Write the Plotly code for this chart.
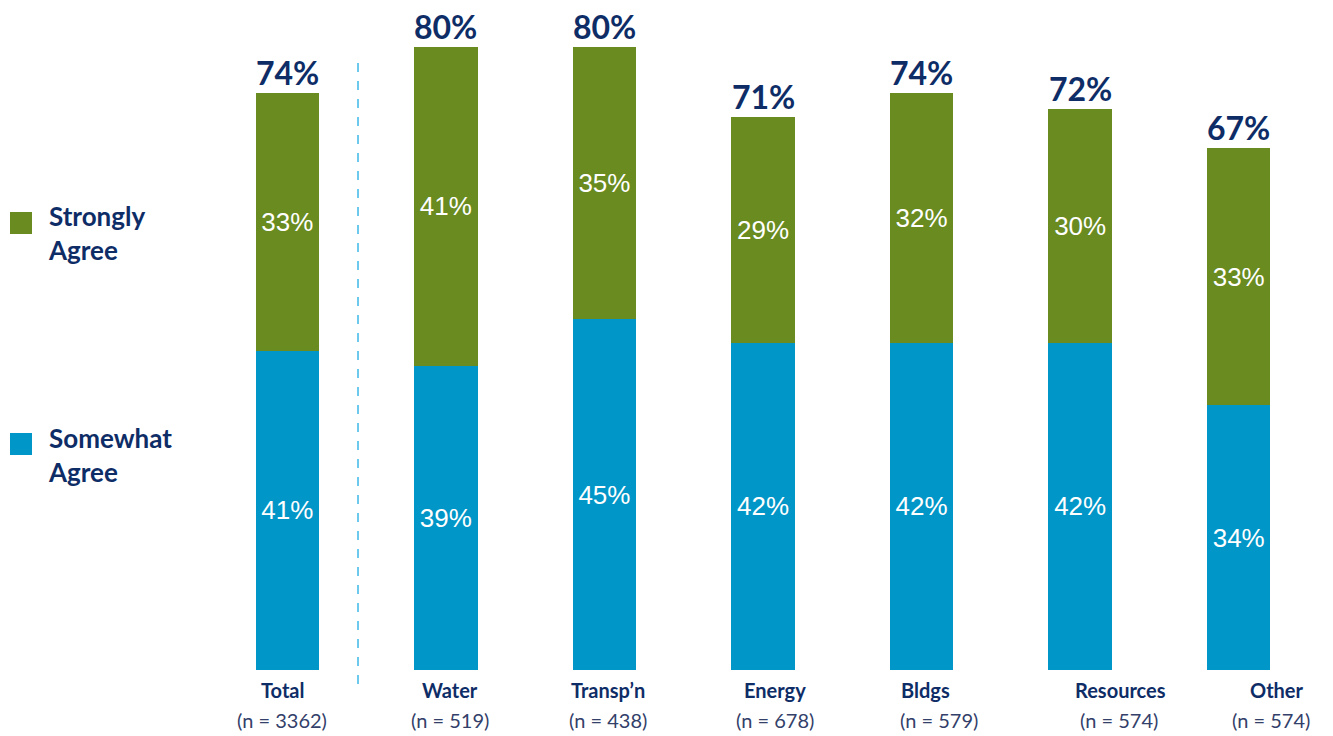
import plotly.graph_objects as go

# Survey results by sector
categories = ["Total", "Water", "Transp\u2019n", "Energy", "Bldgs", "Resources", "Other"]
sample_sizes = ["3362", "519", "438", "678", "579", "574", "574"]
somewhat_agree = [41, 39, 45, 42, 42, 42, 34]
strongly_agree = [33, 41, 35, 29, 32, 30, 33]
combined = [74, 80, 80, 71, 74, 72, 67]

GREEN = "#698B1F"
BLUE = "#0096C8"
NAVY = "#0E2D67"
LABEL_FONT = "Lato, 'Open Sans', sans-serif"
VALUE_FONT = "Liberation Sans, Arial, sans-serif"

x_idx = list(range(len(categories)))

fig = go.Figure()
fig.add_trace(go.Bar(
    x=x_idx, y=somewhat_agree, name="Somewhat Agree",
    marker=dict(color=BLUE, line=dict(width=0)),
    text=[f"{v}%" for v in somewhat_agree], textposition="inside",
    insidetextanchor="middle",
    textfont=dict(family=VALUE_FONT, size=26, color="white"),
))
fig.add_trace(go.Bar(
    x=x_idx, y=strongly_agree, name="Strongly Agree",
    marker=dict(color=GREEN, line=dict(width=0)),
    text=[f"{v}%" for v in strongly_agree], textposition="inside",
    insidetextanchor="middle",
    textfont=dict(family=VALUE_FONT, size=26, color="white"),
))

annotations = []
# totals above each stack
for i, v in enumerate(combined):
    annotations.append(dict(
        x=i, y=v, xref="x", yref="y", text=f"<b>{v}%</b>", showarrow=False,
        yanchor="bottom", yshift=-1,
        font=dict(family=LABEL_FONT, size=32, color=NAVY),
    ))

# category names and sample sizes under the bars
name_shift = [-5, 4, 4, 12, 4, 40, 38]
n_shift = [-5, 4, 4, 12, 17, 39, 32]
for i, (c, n) in enumerate(zip(categories, sample_sizes)):
    annotations.append(dict(
        x=i, y=690, xref="x", yref="paper", text=f"<b>{c}</b>", showarrow=False,
        xshift=name_shift[i], yanchor="middle",
        font=dict(family=LABEL_FONT, size=20, color=NAVY),
    ))
    annotations.append(dict(
        x=i, y=720, xref="x", yref="paper", text=f"(n = {n})", showarrow=False,
        xshift=n_shift[i], yanchor="middle",
        font=dict(family=LABEL_FONT, size=20, color="#33406A"),
    ))

# legend drawn on the left side
legend_items = [("Strongly<br>Agree", GREEN, 223, 233), ("Somewhat<br>Agree", BLUE, 444, 455)]
shapes = []
for label, color, yc, yt in legend_items:
    shapes.append(dict(
        type="rect", xref="paper", yref="paper",
        x0=10, x1=32, y0=yc - 11, y1=yc + 11,
        fillcolor=color, line=dict(width=0), layer="above",
    ))
    annotations.append(dict(
        x=46, y=yt, xref="paper", yref="paper", text=f"<b>{label}</b>",
        showarrow=False, xanchor="left", yanchor="middle", align="left",
        font=dict(family=LABEL_FONT, size=26, color=NAVY),
    ))

# dashed separator between total and sectors
shapes.append(dict(
    type="line", xref="x", yref="paper", x0=0.446, x1=0.446, y0=63, y1=686,
    line=dict(color="#3CB8E6", width=1.5, dash="dash"),
))

W, H = 1333, 736
PLOT_L, PLOT_R, PLOT_T, PLOT_B = 208, 1318, 0, 670

# convert pixel-based paper positions to fractions
for a in annotations:
    if a["yref"] == "paper":
        a["y"] = (PLOT_B - a["y"]) / (PLOT_B - PLOT_T)
    if a["xref"] == "paper":
        a["x"] = (a["x"] - PLOT_L) / (PLOT_R - PLOT_L)
for s in shapes:
    if s["yref"] == "paper":
        s["y0"], s["y1"] = [(PLOT_B - v) / (PLOT_B - PLOT_T) for v in (s["y0"], s["y1"])]
    if s["xref"] == "paper":
        s["x0"], s["x1"] = [(v - PLOT_L) / (PLOT_R - PLOT_L) for v in (s["x0"], s["x1"])]

fig.update_layout(
    barmode="stack", bargap=0.6,
    width=W, height=H,
    margin=dict(l=PLOT_L, r=W - PLOT_R, t=PLOT_T, b=H - PLOT_B, pad=0),
    plot_bgcolor="white", paper_bgcolor="white",
    showlegend=False,
    xaxis=dict(range=[-0.5, 6.5], showticklabels=False, showgrid=False,
               zeroline=False, showline=False, fixedrange=True),
    yaxis=dict(range=[0, 86.0], visible=False, showgrid=False, zeroline=False,
               fixedrange=True),
    annotations=annotations, shapes=shapes,
    uniformtext=dict(mode=False),
)

fig.write_html("out.html")
